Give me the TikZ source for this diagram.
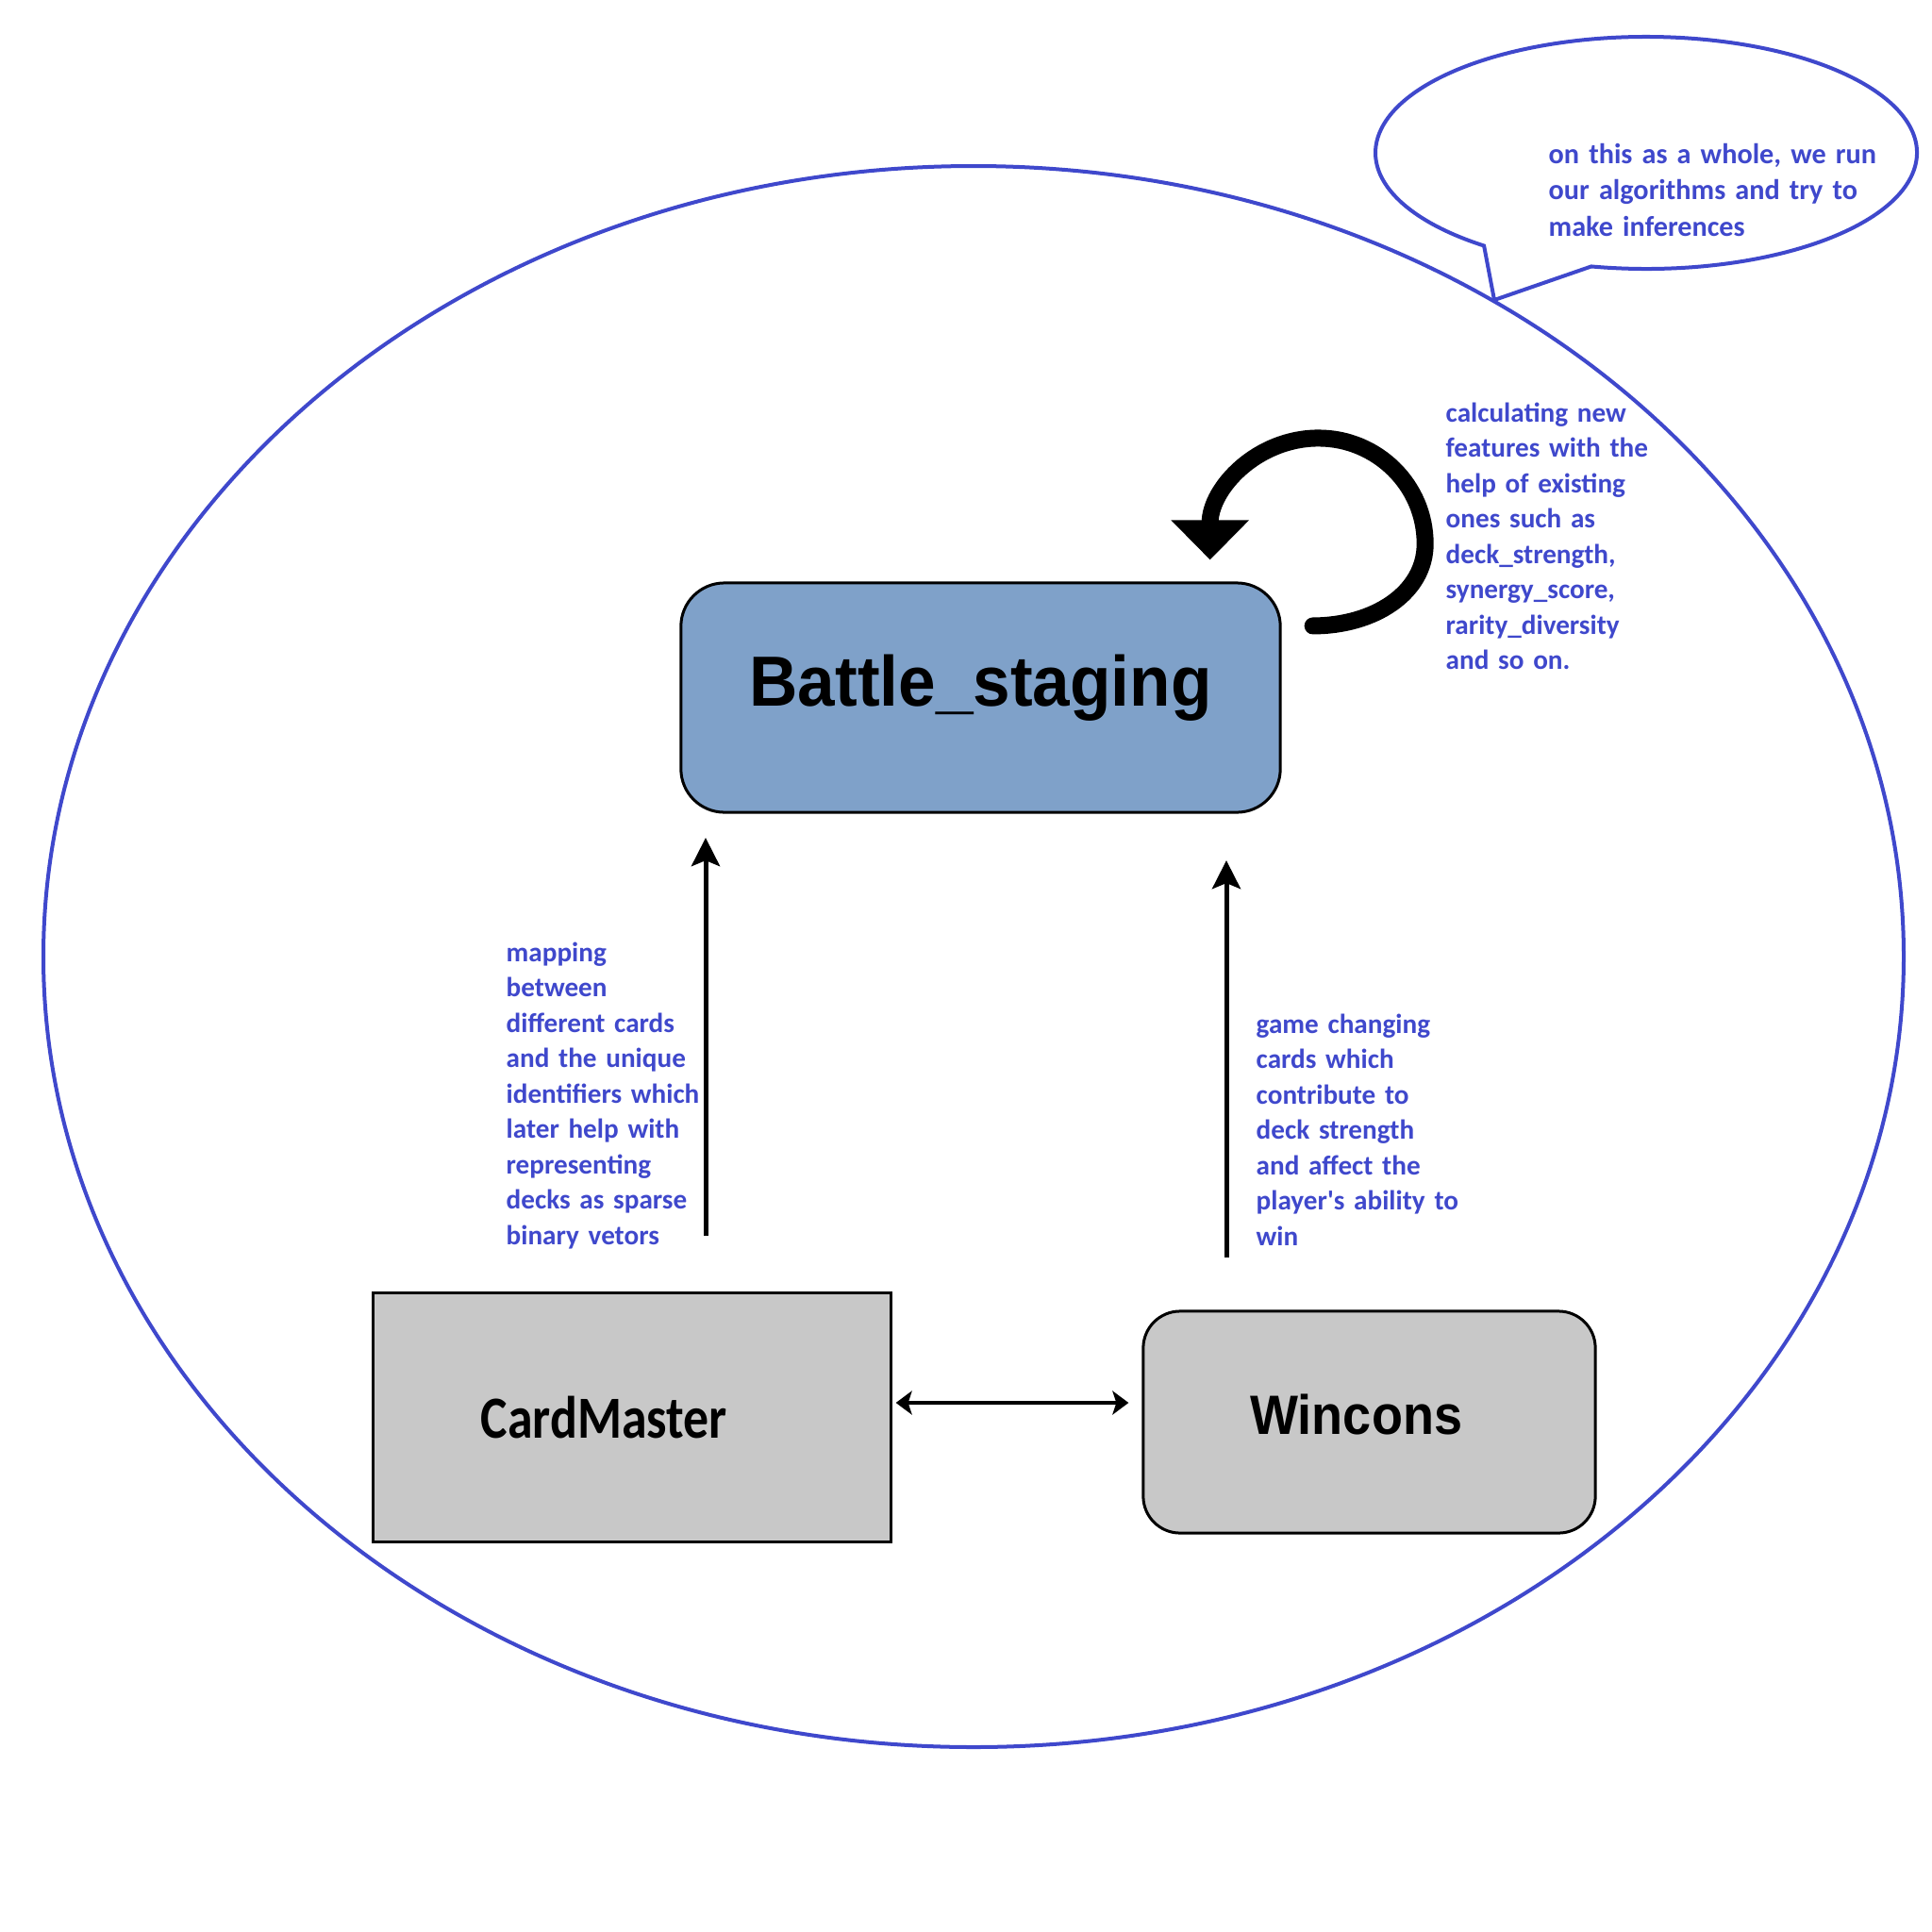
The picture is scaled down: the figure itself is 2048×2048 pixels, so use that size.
\documentclass[tikz,border=0pt]{standalone}
\usepackage{fontspec}
\setmainfont{Carlito}
\newfontfamily\arialfont{Liberation Sans}
\usetikzlibrary{arrows.meta,positioning}
\definecolor{inkblue}{RGB}{63,72,204}
\definecolor{stagefill}{RGB}{127,161,201}
\definecolor{boxgray}{RGB}{200,200,200}

\begin{document}
\begin{tikzpicture}[x=0.01cm,y=-0.01cm]
 		\tikzstyle{main}=[rectangle, draw=black, line width=0.3mm, inner sep=0pt]
 		\tikzstyle{connect}=[-{Stealth[length=3mm,width=3mm,inset=0.6mm]}, line width=0.5mm]
 		\tikzstyle{both}=[{Stealth[length=1.7mm,width=2.5mm,inset=0.4mm]}-{Stealth[length=1.7mm,width=2.5mm,inset=0.4mm]}, line width=0.35mm]
 		\tikzstyle{selfloop}=[-{Triangle[width=8mm,length=4.2mm]}, line width=1.8mm, line cap=round]
 		\tikzstyle{note}=[anchor=base west, inner sep=0pt, text width=3cm, align=left, text=inkblue, font=\bfseries\fontsize{8.3}{10.67}\selectfont]
 		\tikzstyle{outline}=[draw=inkblue, line width=0.4mm]
 		\useasboundingbox (0,0) rectangle (2048,2048);
 		\fill[white] (0,0) rectangle (2048,2048);
 		\draw[outline] (1032,1014) ellipse [x radius=986, y radius=838];
 		\draw[outline, fill=white] (1745,162) ++(101.7:287 and 123) arc [start angle=101.7, end angle=-233.2, x radius=287, y radius=123] -- (1584,318) -- cycle;
 		\node[main, fill=stagefill, rounded corners=4.6mm, minimum width=6.35cm, minimum height=2.43cm, label={[font=\arialfont\bfseries\fontsize{21.4}{25}\selectfont, xscale=0.945, yshift=1mm]center:Battle\_staging}] (stage) at (1039.5,739.5) {};
 			\node[main, fill=boxgray, minimum width=5.48cm, minimum height=2.63cm, label={[font=\bfseries\fontsize{18}{22}\selectfont, xscale=0.85, xshift=-3.5mm]center:CardMaster}] (cards) at (670,1502.5) {};
 			\node[main, fill=boxgray, rounded corners=3.9mm, minimum width=4.79cm, minimum height=2.35cm, label={[font=\arialfont\bfseries\fontsize{16.7}{20}\selectfont, xscale=0.92, xshift=-1.5mm, yshift=0.85mm]center:Wincons}] (wins) at (1451.5,1507.5) {};
 				\node[note] (mapnote) at (536,1019) {mapping\\between\\different cards\\and the unique\\identifiers which\\later help with\\representing\\decks as sparse\\binary vetors};
 				\node[note] (winnote) at (1331,1095) {game changing\\cards which\\contribute to\\deck strength\\and affect the\\player\textquotesingle s ability to\\win};
 				\node[note] (featnote) at (1532,447) {calculating new\\features with the\\help of existing\\ones such as\\deck\_strength,\\synergy\_score,\\rarity\_diversity\\and so on.};
 				\node[note, text width=4cm, font=\bfseries\fontsize{8.6}{10.95}\selectfont] (bubblenote) at (1641,173) {on this as a whole, we run\\our algorithms and try to\\make inferences};

  		\path (cards.north -| 748,0) edge [connect, shorten <=5.95mm, shorten >=2.55mm] (stage.south -| 748,0)
  			(wins.north -| 1300,0) edge [connect, shorten <=5.55mm, shorten >=4.95mm] (stage.south -| 1300,0)
  				(cards.east |- 0,1487) edge [both, shorten <=0.4mm, shorten >=1.4mm] (wins.west |- 0,1487);
  		\draw[selfloop] ([shift={(33,47)}]stage.north east) .. controls +(65,0) and +(0,52) .. ++(119,-87) .. controls +(0,-62) and +(62,0) .. ++(-113,-112) .. controls +(-66,0) and +(0,-75) .. ++(-115,129);
\end{tikzpicture}
\end{document}
